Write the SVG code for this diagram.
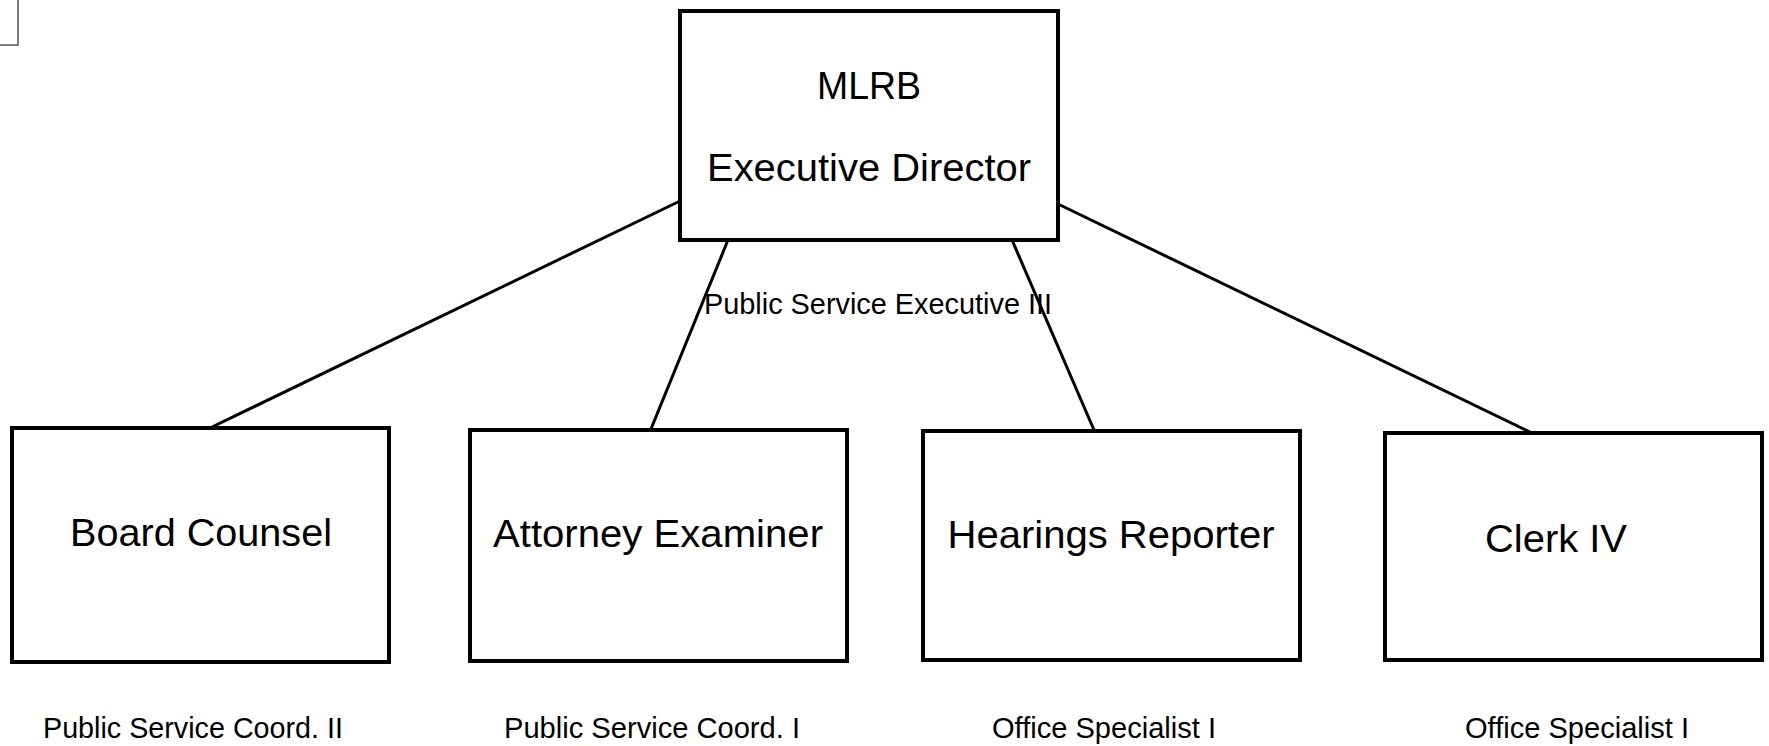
<svg xmlns="http://www.w3.org/2000/svg" width="1769" height="746" viewBox="0 0 1769 746">
  <style>
    .box { fill: #ffffff; stroke: #000000; stroke-width: 4; }
    .link { stroke: #000000; stroke-width: 3; fill: none; }
    .big { font-family: "Liberation Sans", Arial, sans-serif; font-size: 39px; fill: #000000; text-anchor: middle; }
    .title { font-family: "Liberation Sans", Arial, sans-serif; font-size: 29px; fill: #000000; text-anchor: middle; }
    .mark { stroke: #555555; stroke-width: 1.5; fill: none; }
  </style>
  <rect width="1769" height="746" fill="#ffffff"/>

  <!-- page corner mark -->
  <path class="mark" d="M0 45 H18 V0"/>

  <!-- reporting lines -->
  <g id="connectors">
    <line class="link" x1="680" y1="201" x2="212" y2="427"/>
    <line class="link" x1="728" y1="240" x2="651" y2="429"/>
    <line class="link" x1="1012" y1="240" x2="1094" y2="430"/>
    <line class="link" x1="1058" y1="204" x2="1530" y2="432"/>
  </g>

  <g id="executive-director">
    <rect class="box" x="680" y="11" width="378" height="229"/>
    <text class="big" x="869" y="99" textLength="104" lengthAdjust="spacingAndGlyphs">MLRB</text>
    <text class="big" x="869" y="181" textLength="324" lengthAdjust="spacingAndGlyphs">Executive Director</text>
  </g>
  <text id="executive-title" class="title" x="878" y="314" textLength="348" lengthAdjust="spacingAndGlyphs">Public Service Executive III</text>

  <g id="board-counsel">
    <rect class="box" x="12" y="428" width="377" height="234"/>
    <text class="big" x="201" y="546" textLength="262" lengthAdjust="spacingAndGlyphs">Board Counsel</text>
    <text class="title" x="193" y="738" textLength="300" lengthAdjust="spacingAndGlyphs">Public Service Coord. II</text>
  </g>

  <g id="attorney-examiner">
    <rect class="box" x="470" y="430" width="377" height="231"/>
    <text class="big" x="658" y="547" textLength="330" lengthAdjust="spacingAndGlyphs">Attorney Examiner</text>
    <text class="title" x="652" y="738" textLength="296" lengthAdjust="spacingAndGlyphs">Public Service Coord. I</text>
  </g>

  <g id="hearings-reporter">
    <rect class="box" x="923" y="431" width="377" height="229"/>
    <text class="big" x="1111" y="548" textLength="327" lengthAdjust="spacingAndGlyphs">Hearings Reporter</text>
    <text class="title" x="1104" y="738" textLength="224" lengthAdjust="spacingAndGlyphs">Office Specialist I</text>
  </g>

  <g id="clerk-iv">
    <rect class="box" x="1385" y="433" width="377" height="227"/>
    <text class="big" x="1556" y="552" textLength="142" lengthAdjust="spacingAndGlyphs">Clerk IV</text>
    <text class="title" x="1577" y="738" textLength="224" lengthAdjust="spacingAndGlyphs">Office Specialist I</text>
  </g>
</svg>
